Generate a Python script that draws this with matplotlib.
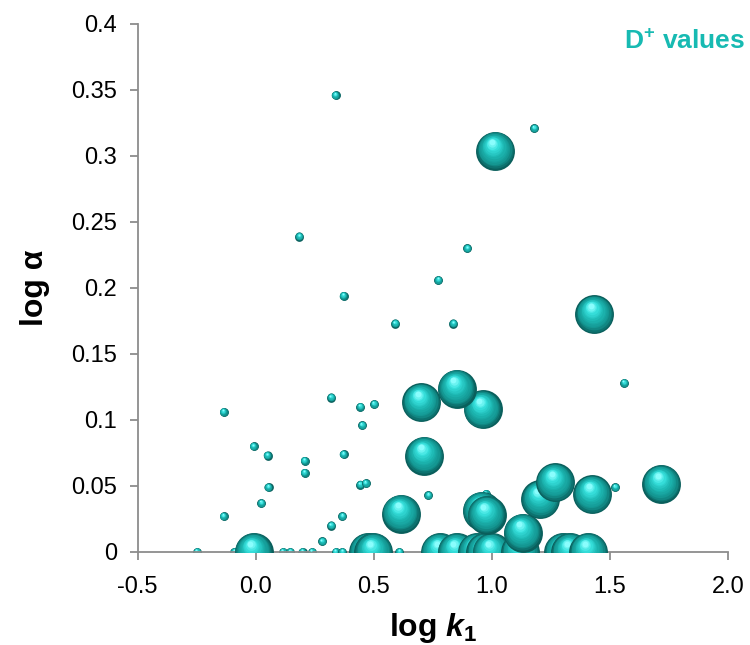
import numpy as np
import matplotlib
matplotlib.use("Agg")
import matplotlib.pyplot as plt
from matplotlib.colors import LinearSegmentedColormap
from matplotlib.transforms import offset_copy

plt.rcParams["font.family"] = ["Liberation Sans", "DejaVu Sans"]
plt.rcParams["mathtext.fontset"] = "custom"
plt.rcParams["mathtext.it"] = "Liberation Sans:italic:bold"
plt.rcParams["mathtext.rm"] = "Liberation Sans:bold"

# small markers (log k1, log alpha)
small_x = [0.338, 1.179, 0.185, 0.896, 0.773, 0.372, 0.590, 0.837, 1.560,
           0.319, 0.442, 0.501, -0.136, 0.450, -0.009, 0.050, 0.372, 0.207,
           0.207, 0.054, 0.442, 0.466, 0.023, -0.136, 0.367, 0.319, 0.281,
           0.731, 0.974, 1.522,
           -0.249, -0.091, 0.115, 0.146, 0.198, 0.238, 0.339, 0.367, 0.608]
small_y = [0.346, 0.321, 0.239, 0.230, 0.206, 0.194, 0.173, 0.173, 0.128,
           0.117, 0.110, 0.112, 0.106, 0.096, 0.080, 0.073, 0.074, 0.069,
           0.060, 0.049, 0.051, 0.052, 0.037, 0.027, 0.027, 0.020, 0.008,
           0.043, 0.044, 0.049,
           0.0, 0.0, 0.0, 0.0, 0.0, 0.0, 0.0, 0.0, 0.0]

# large markers
big_x = [-0.009, 0.475, 0.498, 0.780, 0.851, 0.936, 0.971, 0.999, 1.120,
         1.302, 1.331, 1.408,
         1.130, 0.615, 0.957, 0.978, 1.205, 1.425, 1.267, 1.717,
         0.714, 0.700, 0.961, 0.851, 1.433, 1.014]
big_y = [0.0, 0.0, 0.0, 0.0, 0.0, 0.0, 0.0, 0.0, 0.0,
         0.0, 0.0, 0.0,
         0.0146, 0.0290, 0.0313, 0.0280, 0.0400, 0.0437, 0.0528, 0.0515,
         0.073, 0.1134, 0.108, 0.1237, 0.180, 0.304]

sphere_cmap = LinearSegmentedColormap.from_list(
    "sphere", [(0.0, "#0a5f5c"), (0.2, "#13938f"), (0.5, "#1cb5b0"),
               (0.8, "#38e2de"), (1.0, "#8afdfd")])


def draw_spheres(ax, xs, ys, diam, z0):
    n = 14
    R = diam / 2.0
    z = z0
    for x, y in zip(xs, ys):
        for i in range(n):
            f = i / (n - 1)
            r = R * (1 - 0.85 * f)
            shift = R - r
            tr = offset_copy(ax.transData, fig=ax.figure,
                             x=-0.2 * shift, y=0.5 * shift, units="points")
            ax.scatter([x], [y], s=(2 * r) ** 2, color=sphere_cmap(f),
                       transform=tr, linewidths=0, zorder=z)
            z += 0.001


fig = plt.figure(figsize=(7.5, 6.45), dpi=100)
ax = fig.add_axes([0.1836, 0.1442, 0.7871, 0.8186])

draw_spheres(ax, small_x, small_y, 6.3, 2)
draw_spheres(ax, big_x, big_y, 28.0, 3)

ax.set_xlim(-0.5, 2.0)
ax.set_ylim(0, 0.4)
ax.set_xticks(np.arange(-0.5, 2.01, 0.5))
ax.set_xticklabels(["-0.5", "0.0", "0.5", "1.0", "1.5", "2.0"])
ax.set_yticks(np.arange(0, 0.401, 0.05))
ax.set_yticklabels(["0", "0.05", "0.1", "0.15", "0.2", "0.25", "0.3", "0.35", "0.4"])

for s in ["top", "right"]:
    ax.spines[s].set_visible(False)
for s in ["left", "bottom"]:
    ax.spines[s].set_color("#8c8c8c")
    ax.spines[s].set_linewidth(1.3)
ax.tick_params(axis="both", colors="#8c8c8c", length=6, width=1.3,
               labelsize=17, labelcolor="black", pad=9)
ax.tick_params(axis="x", pad=11)

ax.set_xlabel(r"log $\mathit{k}_{\mathit{1}}$", fontsize=23, fontweight="bold",
              labelpad=10)
ax.set_ylabel("log α", fontsize=23, fontweight="bold", labelpad=15)

fig.text(0.993, 0.935, "D$^{+}$ values", color="#17bab2", fontsize=19,
         fontweight="bold", ha="right", va="center")

fig.savefig("out.png", dpi=100)
